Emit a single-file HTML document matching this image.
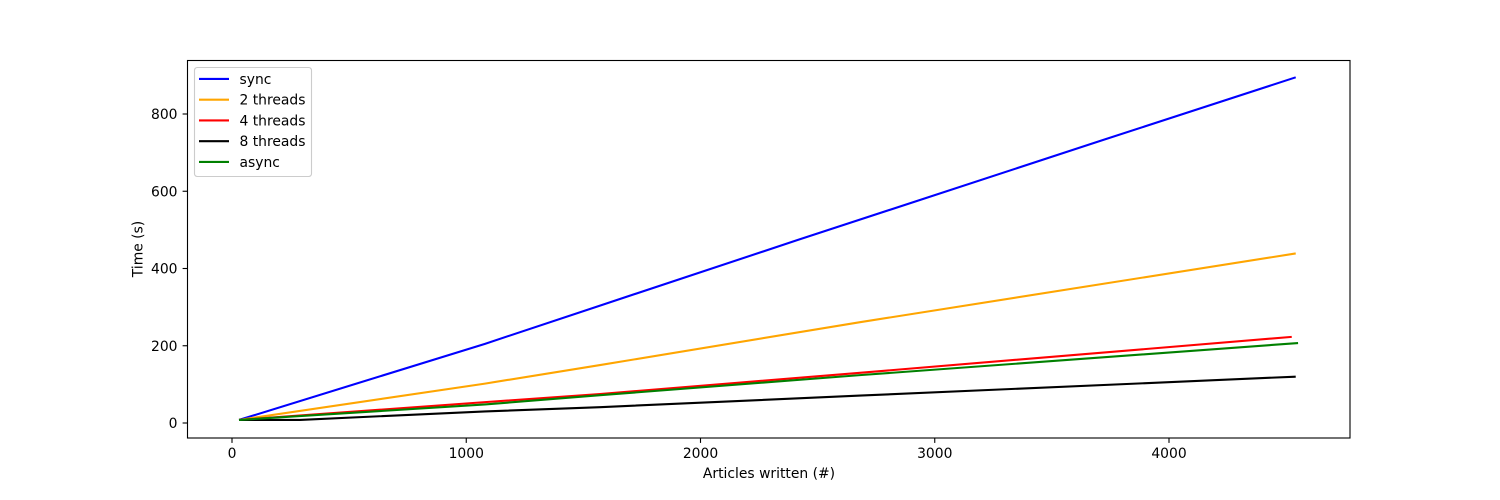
<!DOCTYPE html>
<html>
<head>
<meta charset="utf-8">
<title>Articles written vs time</title>
<style>
html,body{margin:0;padding:0;background:#fff;width:1500px;height:500px;overflow:hidden}
svg{display:block}
text{font-family:"DejaVu Sans","Liberation Sans",sans-serif;font-size:13.89px;fill:#000}
</style>
</head>
<body>
<svg id="chart" width="1500" height="500" viewBox="0 0 1500 500" xmlns="http://www.w3.org/2000/svg">
<rect x="0" y="0" width="1500" height="500" fill="#fff"/>
<g id="marks"></g>
<g id="axes"></g>
<rect x="187.5" y="60.5" width="1162.5" height="377.5" fill="none" stroke="#000" stroke-width="1.11"/>
<text x="769" y="478" text-anchor="middle">Articles written (#)</text>
<text transform="translate(142.5 249) rotate(-90)" text-anchor="middle">Time (s)</text>
<g id="legend"></g>
</svg>
<script>
const xTicks = [0, 1000, 2000, 3000, 4000];
const yTicks = [0, 200, 400, 600, 800];
const seriesNames = ['sync', '2 threads', '4 threads', '8 threads', 'async'];
const seriesColors = ['#0000ff', '#ffa500', '#ff0000', '#000000', '#008000'];
const syncX = [30, 1080, 1571, 2416, 3705, 4541];
const syncY = [8, 205, 304, 474, 730, 895];
const twoThreadsX = [30, 1080, 1571, 2681, 4541];
const twoThreadsY = [8, 102, 150, 261, 439];
const fourThreadsX = [30, 1080, 1571, 2681, 4524];
const fourThreadsY = [8, 54, 75, 130, 223];
const eightThreadsX = [30, 290, 1080, 1571, 2681, 4541];
const eightThreadsY = [8, 8, 30, 41, 71, 120];
const asyncX = [30, 1080, 1571, 2681, 4551];
const asyncY = [8, 48, 72, 124, 207];
const seriesXs = [syncX, twoThreadsX, fourThreadsX, eightThreadsX, asyncX];
const seriesYs = [syncY, twoThreadsY, fourThreadsY, eightThreadsY, asyncY];

const NS = 'http://www.w3.org/2000/svg';
function xScale(v) { return 232 + v * 0.23425; }
function yScale(v) { return 423 - v * 0.38625; }
function make(tag, attrs, parent) {
  const el = document.createElementNS(NS, tag);
  for (const k in attrs) el.setAttribute(k, attrs[k]);
  parent.appendChild(el);
  return el;
}
const marks = document.getElementById('marks');
const axes = document.getElementById('axes');
const legend = document.getElementById('legend');

seriesNames.forEach(function (name, i) {
  const pts = seriesXs[i].map(function (x, j) {
    return xScale(x).toFixed(2) + ',' + yScale(seriesYs[i][j]).toFixed(2);
  }).join(' ');
  const line = make('polyline', {points: pts, fill: 'none', stroke: seriesColors[i], 'stroke-width': 2.08, 'stroke-linecap': 'butt', 'stroke-linejoin': 'round'}, marks);
  
  
});

xTicks.forEach(function (t) {
  const x = xScale(t);
  const tick = make('line', {x1: x, x2: x, y1: 438, y2: 442.9, stroke: '#000', 'stroke-width': 1.11}, axes);
  
  
  const label = make('text', {x: x, y: 458, 'text-anchor': 'middle'}, axes);
  
  
  label.textContent = t;
});

yTicks.forEach(function (t) {
  const y = yScale(t);
  const tick = make('line', {x1: 182.6, x2: 187.5, y1: y, y2: y, stroke: '#000', 'stroke-width': 1.11}, axes);
  
  
  const label = make('text', {x: 177.5, y: y + 5.2, 'text-anchor': 'end'}, axes);
  
  
  label.textContent = t;
});

const legendBox = make('rect', {x: 194.5, y: 67.5, width: 117, height: 109, rx: 2.8, ry: 2.8, fill: '#fff', 'fill-opacity': 0.8, stroke: '#cccccc', 'stroke-width': 1.11}, legend);



seriesNames.forEach(function (name, i) {
  const y = 78.9 + i * 20.75;
  const swatch = make('line', {x1: 199, x2: 229, y1: y, y2: y, stroke: seriesColors[i], 'stroke-width': 2.08}, legend);
  
  
  const label = make('text', {x: 239.5, y: y + 5}, legend);
  
  
  label.textContent = name;
});
</script>
</body>
</html>
